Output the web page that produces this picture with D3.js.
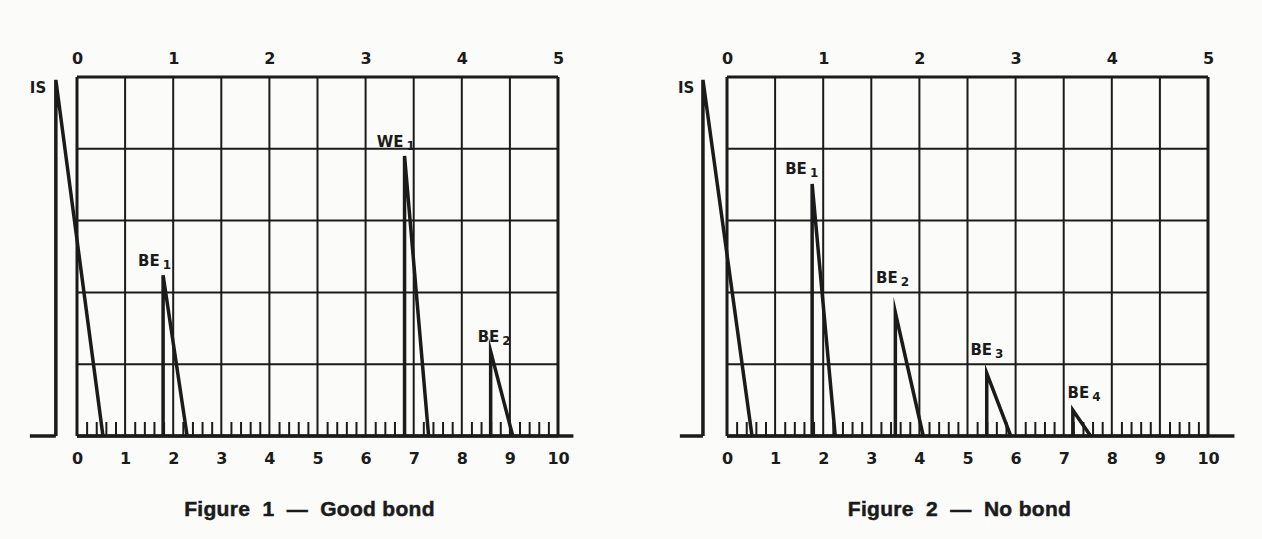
<!DOCTYPE html>
<html lang="en">
<head>
<meta charset="UTF-8">
<title>Bond echoes</title>
<script src="https://cdn.jsdelivr.net/npm/d3@7"></script>
<style>
    body {
        margin: 0;
        background-color: #fbfbf9;
    }

    text {
        font-family: "DejaVu Sans", "Liberation Sans", Arial, sans-serif;
        font-weight: bold;
        fill: #1b1b1b;
    }

    text.tick-label {
        font-size: 16px;
    }

    text.echo-label {
        font-size: 15px;
    }

    text.fig-title {
        font-family: "Liberation Sans", Arial, sans-serif;
        font-size: 21px;
        letter-spacing: 0.3px;
        stroke: #1b1b1b;
        stroke-width: 0.5px;
    }
</style>
</head>
<body>
<div id="chart"></div>
<script>
    // scales of the two screens
    var bottomTicks = [0, 1, 2, 3, 4, 5, 6, 7, 8, 9, 10];
    var topTicks = [0, 1, 2, 3, 4, 5];
    var rowLines = [0, 1, 2, 3, 4, 5];

    var titles = ["Figure  1  \u2014  Good bond", "Figure  2  \u2014  No bond"];

    // figure 1: echo name, subscript, start of rise, end of fall, height (rows)
    var fig1Names = ["IS", "BE", "WE", "BE"];
    var fig1Subs = ["", "1", "1", "2"];
    var fig1Start = [-0.44, 1.79, 6.81, 8.60];
    var fig1End = [0.54, 2.29, 7.31, 9.06];
    var fig1Height = [4.96, 2.24, 3.90, 1.18];
    var fig1LabelX = [-0.98, 1.27, 6.23, 8.33];
    var fig1LabelY = [4.78, 2.37, 4.03, 1.31];
    var fig1Base = [-0.98, 10.32];

    // figure 2
    var fig2Names = ["IS", "BE", "BE", "BE", "BE"];
    var fig2Subs = ["", "1", "2", "3", "4"];
    var fig2Start = [-0.50, 1.77, 3.50, 5.40, 7.19];
    var fig2End = [0.52, 2.25, 4.08, 5.90, 7.56];
    var fig2Height = [4.96, 3.51, 1.72, 0.875, 0.36];
    var fig2LabelX = [-1.02, 1.21, 3.10, 5.06, 7.08];
    var fig2LabelY = [4.78, 3.65, 2.125, 1.125, 0.53];
    var fig2Base = [-0.98, 10.55];

    var W = 1262, H = 539;
    var ink = "#1b1b1b";

    var svg = d3.select("#chart").append("svg")
        .attr("width", W)
        .attr("height", H);

    function echoes(names, subs, start, end, height, lx, ly) {
        return names.map(function (n, i) {
            return {name: n, sub: subs[i], x0: start[i], x1: end[i], h: height[i], lx: lx[i], ly: ly[i]};
        });
    }

    var panels = [
        {left: 77, title: titles[0], base: fig1Base,
            data: echoes(fig1Names, fig1Subs, fig1Start, fig1End, fig1Height, fig1LabelX, fig1LabelY)},
        {left: 727, title: titles[1], base: fig2Base,
            data: echoes(fig2Names, fig2Subs, fig2Start, fig2End, fig2Height, fig2LabelX, fig2LabelY)}
    ];

    var boxW = 481, boxTop = 77, boxBottom = 436;

    panels.forEach(function (p) {
        var x = d3.scaleLinear().domain([0, 10]).range([p.left, p.left + boxW]);
        var xTop = d3.scaleLinear().domain([0, 5]).range([p.left, p.left + boxW]);
        var y = d3.scaleLinear().domain([0, 5]).range([boxBottom, boxTop]);

        var g = svg.append("g");

        // grid
        g.selectAll("line.v").data(bottomTicks).enter().append("line")
            .attr("x1", d => x(d)).attr("x2", d => x(d))
            .attr("y1", y(0)).attr("y2", y(5))
            .attr("stroke", ink)
            .attr("stroke-width", d => (d === 0 || d === 10) ? 3 : 2);

        g.selectAll("line.h").data(rowLines).enter().append("line")
            .attr("x1", x(0)).attr("x2", x(10))
            .attr("y1", d => y(d)).attr("y2", d => y(d))
            .attr("stroke", ink)
            .attr("stroke-width", d => (d === 0 || d === 5) ? 3 : 2);

        // minor ticks along the base line
        var minor = d3.range(0, 10, 0.2).filter(d => Math.abs(d - Math.round(d)) > 0.01);
        g.append("g")
            .attr("transform", "translate(0," + boxBottom + ")")
            .call(d3.axisTop(x).tickValues(minor).tickSize(14).tickFormat(""))
            .call(s => s.select(".domain").remove())
            .selectAll("line").attr("stroke", ink).attr("stroke-width", 2);

        // base line
        var is = p.data[0];
        g.append("line")
            .attr("x1", x(p.base[0])).attr("x2", x(is.x0))
            .attr("y1", y(0)).attr("y2", y(0))
            .attr("stroke", ink).attr("stroke-width", 3.5);
        g.append("line")
            .attr("x1", x(0)).attr("x2", x(p.base[1]))
            .attr("y1", y(0)).attr("y2", y(0))
            .attr("stroke", ink).attr("stroke-width", 3.5);

        // tick labels
        g.append("g")
            .attr("transform", "translate(0," + boxBottom + ")")
            .call(d3.axisBottom(x).tickValues(bottomTicks).tickSize(0).tickPadding(17).tickFormat(d3.format("d")))
            .call(s => s.select(".domain").remove())
            .selectAll("text").attr("class", "tick-label");

        g.append("g")
            .attr("transform", "translate(0," + boxTop + ")")
            .call(d3.axisTop(xTop).tickValues(topTicks).tickSize(0).tickPadding(13).tickFormat(d3.format("d")))
            .call(s => s.select(".domain").remove())
            .selectAll("text").attr("class", "tick-label");

        g.selectAll("g").attr("font-size", null).attr("font-family", null);
        g.selectAll(".tick-label").attr("fill", null);

        // echoes
        var line = d3.line().x(d => x(d[0])).y(d => y(d[1]));
        g.selectAll("path.echo").data(p.data).enter().append("path")
            .attr("class", "echo")
            .attr("d", d => line([[d.x0, 0], [d.x0, d.h], [d.x1, 0]]))
            .attr("fill", "none")
            .attr("stroke", ink)
            .attr("stroke-width", 3.5)
            .attr("stroke-linejoin", "miter")
            .attr("stroke-miterlimit", 10);

        var lab = g.selectAll("text.echo-label").data(p.data).enter().append("text")
            .attr("class", "echo-label")
            .attr("x", d => x(d.lx))
            .attr("y", d => y(d.ly))
            .text(d => d.name);
        lab.append("tspan")
            .attr("dx", 3).attr("dy", 3)
            .style("font-size", "12px")
            .text(d => d.sub);

        // caption
        g.append("text")
            .attr("class", "fig-title")
            .attr("x", p.left + boxW / 2 - 8)
            .attr("y", 516)
            .attr("text-anchor", "middle")
            .attr("xml:space", "preserve")
            .text(p.title);
    });
</script>
</body>
</html>
